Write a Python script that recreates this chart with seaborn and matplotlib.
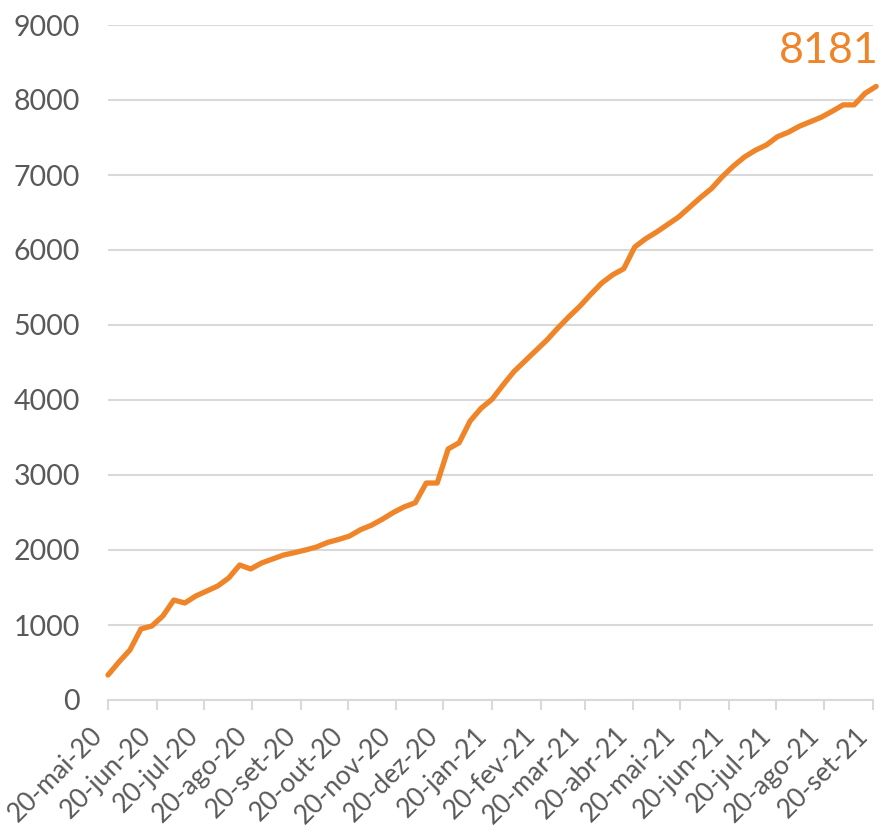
import pandas as pd
import matplotlib.pyplot as plt
import seaborn as sns

# weekly cumulative values
start_date = "2020-05-20"
values = [333, 507, 667, 947, 987, 1120, 1333, 1293, 1387, 1453,
          1520, 1627, 1800, 1747, 1827, 1880, 1933, 1965, 2000, 2040,
          2100, 2140, 2185, 2270, 2330, 2410, 2500, 2575, 2630, 2893,
          2893, 3347, 3430, 3720, 3890, 4010, 4200, 4380, 4520, 4660,
          4800, 4960, 5110, 5250, 5410, 5560, 5670, 5750, 6040, 6150,
          6240, 6340, 6440, 6570, 6700, 6820, 6980, 7120, 7240, 7330,
          7400, 7510, 7570, 7650, 7710, 7770, 7850, 7935, 7935, 8090,
          8181]
tick_dates = pd.date_range("2020-05-01", periods=17, freq="MS") + pd.Timedelta(days=19)
tick_labels = ["20-mai-20", "20-jun-20", "20-jul-20", "20-ago-20", "20-set-20",
               "20-out-20", "20-nov-20", "20-dez-20", "20-jan-21", "20-fev-21",
               "20-mar-21", "20-abr-21", "20-mai-21", "20-jun-21", "20-jul-21",
               "20-ago-21", "20-set-21"]

df = pd.DataFrame({"Data": pd.date_range(start_date, periods=len(values), freq="7D"),
                   "Total": values})

sns.set_style("white")
plt.rcParams['font.family'] = ['Lato', 'DejaVu Sans']

orange = "#EF8428"
grey = "#595959"
grid = "#D9D9D9"

fig = plt.figure(figsize=(8.82, 8.35), dpi=100)
ax = fig.add_axes([108/882, 1 - 700/835, (873 - 108)/882, 675/835])

sns.lineplot(data=df, x="Data", y="Total", color=orange, linewidth=3.8, ax=ax,
             solid_capstyle="round", clip_on=False)

ax.set_ylim(0, 9000)
ax.set_yticks(range(0, 9001, 1000))
ax.set_xlim(df["Data"].iloc[0], tick_dates[-1])
ax.set_xticks(tick_dates)
# anchor at the bottom-right corner so the rotated text never goes right of its tick
ax.set_xticklabels(tick_labels, rotation=45, ha="right", va="bottom",
                   rotation_mode="anchor")

ax.yaxis.grid(True, color=grid, linewidth=1.5)
ax.set_axisbelow(True)
for s in ["left", "right", "top"]:
    ax.spines[s].set_visible(False)
ax.spines["bottom"].set_color(grid)
ax.spines["bottom"].set_linewidth(1.5)
ax.tick_params(axis="x", length=7, width=1.5, color=grid, direction="out",
               labelsize=19, labelcolor=grey, pad=22, bottom=True)
ax.tick_params(axis="y", length=0, labelsize=20.5, labelcolor=grey, pad=20)
ax.set_xlabel("")
ax.set_ylabel("")

last = df.iloc[-1]
ax.annotate(f"{last['Total']}", xy=(last["Data"], last["Total"]),
            xytext=(2, 16), textcoords="offset pixels", ha="right", va="bottom",
            fontsize=31, color=orange, annotation_clip=False)

fig.savefig("out.png", dpi=100)
